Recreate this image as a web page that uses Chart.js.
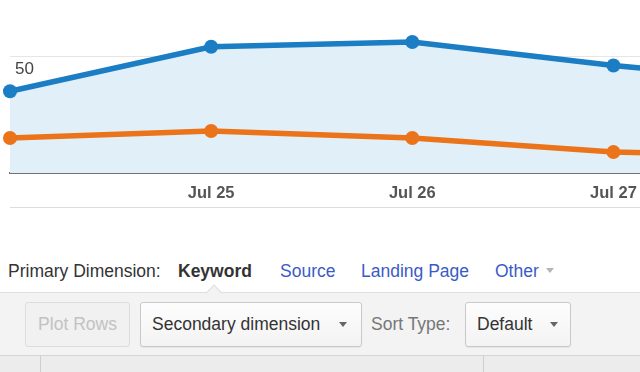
<!DOCTYPE html>
<html>
<head>
<meta charset="utf-8">
<script src="https://cdn.jsdelivr.net/npm/chart.js@4.4.1/dist/chart.umd.min.js"></script>
<style>
  html, body { margin: 0; padding: 0; width: 640px; height: 372px; overflow: hidden; background: #fff;
    font-family: Arial, "Liberation Sans", sans-serif; }
  #wrap { position: absolute; left: 0; top: 0; }
  .abs { position: absolute; white-space: nowrap; }
  .dim { top: 261px; font-size: 17.5px; line-height: 20px; color: #333; }
  .dim.link { color: #3a5bc7; }
  .tri { position: absolute; width: 0; height: 0; border-left: 4.5px solid transparent;
    border-right: 4.5px solid transparent; border-top: 5px solid #666; }
  #toolbar { position: absolute; left: 0; top: 292px; width: 640px; height: 62px; background: #f3f3f3;
    border-top: 1px solid #dedede; }
  #caret { position: absolute; left: 208px; top: 287px; width: 11px; height: 11px; background: #f3f3f3;
    border-left: 1px solid #dedede; border-top: 1px solid #dedede; transform: rotate(45deg); }
  .btn { position: absolute; top: 302px; height: 45px; box-sizing: border-box; border: 1px solid #c9c9c9;
    border-radius: 3px; background: linear-gradient(#fdfdfd, #f3f3f3); font-size: 17.5px; line-height: 43px;
    color: #333; box-shadow: 0 1px 1px rgba(0,0,0,0.06); }
  #thead { position: absolute; left: 0; top: 355px; width: 640px; height: 17px; background: #ececec;
    border-top: 1px solid #d6d6d6; }
  .vl { position: absolute; top: 356px; width: 1px; height: 16px; background: #cfcfcf; }
</style>
</head>
<body>
<div id="wrap"><canvas id="trend" width="837" height="218"></canvas></div>
<div class="abs" style="left:10px;top:207px;width:630px;height:1px;background:#dcdcdc"></div>

<div class="abs dim" style="left:8px">Primary Dimension:</div>
<div class="abs dim" style="left:178px;font-weight:bold">Keyword</div>
<div class="abs dim link" style="left:280px">Source</div>
<div class="abs dim link" style="left:361px">Landing Page</div>
<div class="abs dim link" style="left:495px">Other</div>
<div class="tri" style="left:546px;top:268px;border-top-color:#b5b5b5"></div>

<div id="toolbar"></div>
<div id="caret"></div>
<div class="btn" style="left:25px;width:105px;text-align:center;color:#c2c2c2;background:#f1f1f1;border-color:#dddddd;box-shadow:none">Plot Rows</div>
<div class="btn" style="left:140px;width:222px;padding-left:11px">Secondary dimension</div>
<div class="tri" style="left:339px;top:322px"></div>
<div class="abs" style="left:371px;top:314px;font-size:17.5px;line-height:20px;color:#777">Sort Type:</div>
<div class="btn" style="left:465px;width:106px;padding-left:11px">Default</div>
<div class="tri" style="left:550px;top:322px"></div>

<div id="thead"></div>
<div class="vl" style="left:40px"></div>
<div class="vl" style="left:483px"></div>

<script>
// values (0 sits on the baseline, 50 on the grid line)
const days = ['Jul 24', 'Jul 25', 'Jul 26', 'Jul 27', 'Jul 28'];
const primarySeries = [35, 54, 56, 46, 38];
const compareSeries = [15, 18, 15, 9, 7];
const yTickLabels = [50];

const ctx = document.getElementById('trend').getContext('2d');
const chart = new Chart(ctx, {
  type: 'line',
  data: {
    labels: days,
    datasets: [{
      data: primarySeries,
      borderColor: '#1b7dc3',
      backgroundColor: '#e1f0f8',
      fill: 'origin',
      borderWidth: 5.5,
      pointRadius: 7,
      pointBackgroundColor: '#1b7dc3',
      pointBorderWidth: 0,
      tension: 0
    }, {
      data: compareSeries,
      borderColor: '#eb731a',
      fill: false,
      borderWidth: 5.5,
      pointRadius: 7,
      pointBackgroundColor: '#eb731a',
      pointBorderWidth: 0,
      tension: 0
    }]
  },
  options: {
    responsive: false,
    animation: false,
    layout: { padding: 0 },
    plugins: {
      legend: { display: false },
      tooltip: { enabled: false },
      filler: { drawTime: 'beforeDatasetsDraw' }
    },
    scales: {
      x: {
        grid: { display: false },
        border: { color: '#707070', width: 2 },
        ticks: {
          padding: 2, color: '#555', autoSkip: false, maxRotation: 0,
          font: { size: 16.5, family: 'Arial', weight: 'bold' },
          // first day sits on the cropped edge, its label is not shown
          callback: (v, i) => (i === 0 ? '' : days[i])
        }
      },
      y: {
        min: 0, max: 73,
        afterFit: s => { s.width = 0; },
        border: { display: false },
        grid: { drawTicks: false, color: '#e6e6e6', lineWidth: 1 },
        ticks: {
          stepSize: 50, mirror: true, padding: 5, labelOffset: 13, color: '#444',
          font: { size: 17, family: 'Arial' },
          callback: v => (yTickLabels.includes(v) ? String(v) : null)
        }
      }
    }
  }
});

// the screenshot is a crop: put the plot's left edge and baseline where they are in it
const area = chart.chartArea;
const wrap = document.getElementById('wrap');
wrap.style.left = (10 - area.left) + 'px';
wrap.style.top = (173 - area.bottom) + 'px';
</script>
</body>
</html>
